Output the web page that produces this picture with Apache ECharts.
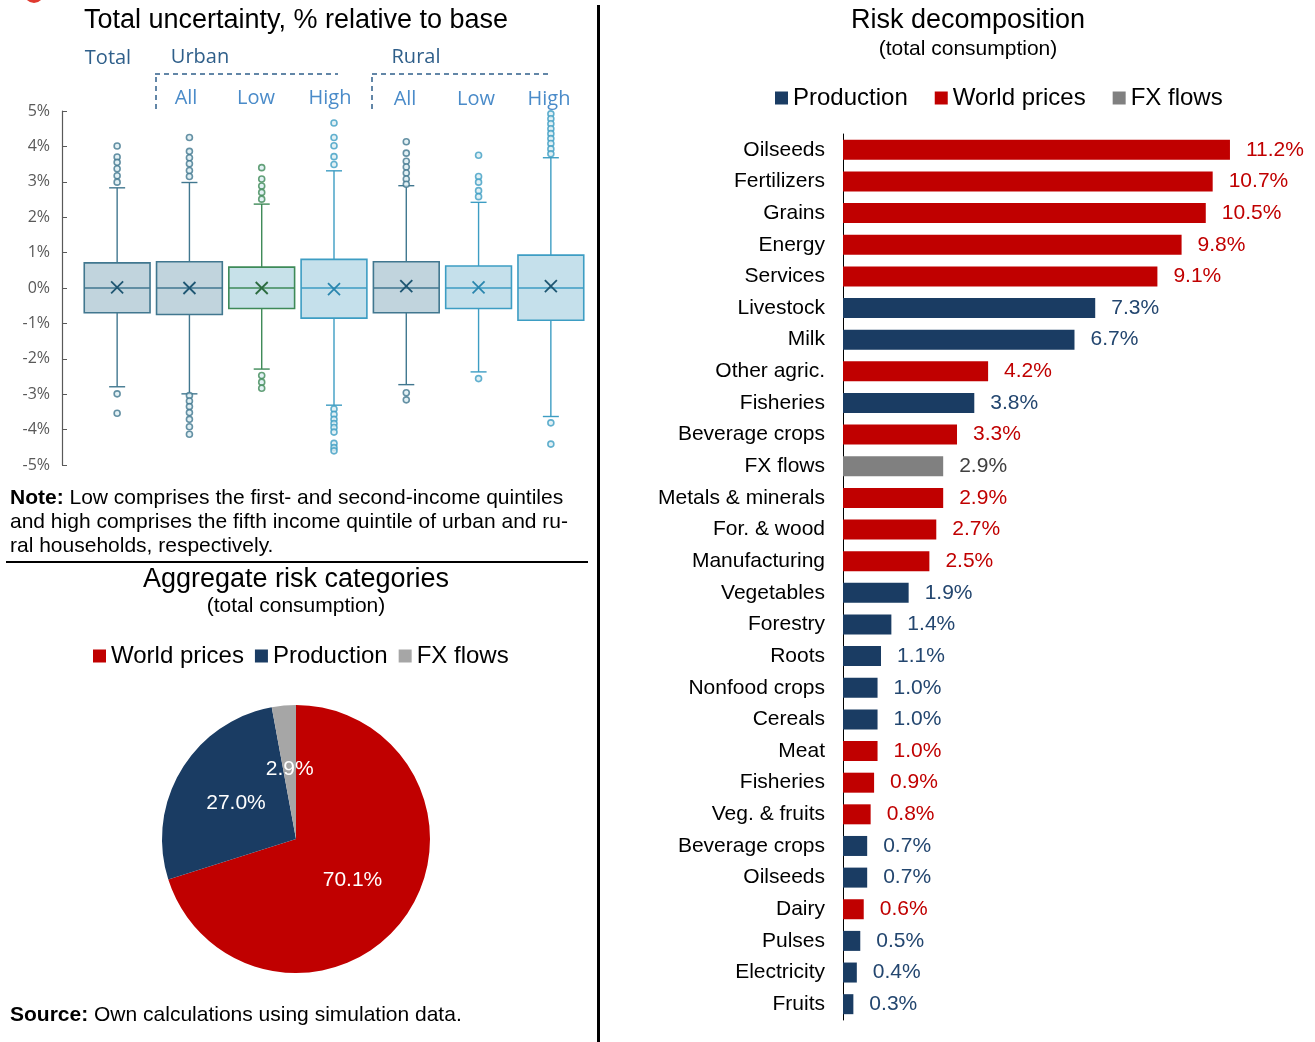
<!DOCTYPE html>
<html>
<head>
<meta charset="utf-8">
<script src="https://cdn.jsdelivr.net/npm/echarts@6/dist/echarts.min.js"></script>
<style>
  html, body { margin: 0; padding: 0; background: #fff; }
  #main { width: 1315px; height: 1042px; }
</style>
</head>
<body>
<div id="main"></div>
<script>
// ---- box plot: total uncertainty, % relative to base
var boxGroups   = ['Total', 'Urban All', 'Urban Low', 'Urban High', 'Rural All', 'Rural Low', 'Rural High'];
var boxLow      = [-2.79, -2.99, -2.29, -3.31, -2.73, -2.37, -3.63];
var boxQ1       = [-0.70, -0.75, -0.58, -0.85, -0.70, -0.58, -0.91];
var boxMedian   = [0, 0, 0, 0, 0, 0, 0];
var boxQ3       = [0.71, 0.74, 0.59, 0.81, 0.74, 0.62, 0.93];
var boxHigh     = [2.83, 2.98, 2.37, 3.31, 2.89, 2.42, 3.68];
var boxMean     = [0.02, 0.00, 0.00, -0.03, 0.05, 0.02, 0.05];
var boxOutliers = [
    [4.01, 3.70, 3.55, 3.37, 3.17, 2.99, -2.99, -3.54],
    [4.25, 3.86, 3.68, 3.51, 3.32, 3.15, -3.04, -3.19, -3.35, -3.52, -3.71, -3.92, -4.13],
    [3.40, 3.08, 2.88, 2.70, 2.51, -2.47, -2.66, -2.83],
    [4.66, 4.25, 4.02, 3.71, 3.49, -3.42, -3.57, -3.71, -3.83, -3.94, -4.07, -4.39, -4.51, -4.60],
    [4.13, 3.81, 3.58, 3.42, 3.25, 3.08, 2.93, -2.96, -3.16],
    [3.75, 3.15, 2.99, 2.75, 2.58, -2.56],
    [4.92, 4.78, 4.64, 4.50, 4.36, 4.22, 4.08, 3.93, 3.79, -3.81, -4.41]
];

// ---- pie: aggregate risk categories
var pieNames  = ['World prices', 'Production', 'FX flows'];
var pieValues = [70.1, 27.0, 2.9];

// ---- bars: risk decomposition
var barCategories = ['Oilseeds', 'Fertilizers', 'Grains', 'Energy', 'Services', 'Livestock', 'Milk',
    'Other agric.', 'Fisheries', 'Beverage crops', 'FX flows', 'Metals & minerals', 'For. & wood',
    'Manufacturing', 'Vegetables', 'Forestry', 'Roots', 'Nonfood crops', 'Cereals', 'Meat', 'Fisheries',
    'Veg. & fruits', 'Beverage crops', 'Oilseeds', 'Dairy', 'Pulses', 'Electricity', 'Fruits'];
var barValues = [11.2, 10.7, 10.5, 9.8, 9.1, 7.3, 6.7, 4.2, 3.8, 3.3, 2.9, 2.9, 2.7, 2.5, 1.9, 1.4,
    1.1, 1.0, 1.0, 1.0, 0.9, 0.8, 0.7, 0.7, 0.6, 0.5, 0.4, 0.3];
var barGroup = ['W', 'W', 'W', 'W', 'W', 'P', 'P', 'W', 'P', 'W', 'F', 'W', 'W', 'W', 'P', 'P',
    'P', 'P', 'P', 'W', 'W', 'W', 'P', 'P', 'W', 'P', 'P', 'P'];

// styles
var RED = '#c00000', NAVY = '#1a3c63';
var ARIAL = '"Liberation Sans", Arial, sans-serif';
var SEGOE = '"Open Sans", "Noto Sans", sans-serif';
var boxFill   = ['#c1d4dd', '#c1d4dd', '#c7e1e9', '#c5e0eb', '#c1d4dd', '#c5e0eb', '#c5e0eb'];
var boxStroke = ['#41778f', '#41778f', '#3e8a58', '#3d9dc3', '#41778f', '#3d9dc3', '#3d9dc3'];
var boxMark   = ['#1e5672', '#1e5672', '#2c6c40', '#2a86ae', '#1e5672', '#2a86ae', '#1e5672'];
var groupDefs = [
    { key: 'P', name: 'Production', color: NAVY, label: '#23466f' },
    { key: 'W', name: 'World prices', color: RED, label: RED },
    { key: 'F', name: 'FX flows', color: '#808080', label: '#404040' }
];

var myChart = echarts.init(document.getElementById('main'));

// box data: [index, low, q1, median, q3, high, mean]
var boxData = boxGroups.map(function (g, i) {
    return [i, boxLow[i], boxQ1[i], boxMedian[i], boxQ3[i], boxHigh[i], boxMean[i]];
});
var outlierData = [];
boxOutliers.forEach(function (list, i) {
    list.forEach(function (v) {
        outlierData.push({
            value: [i, v],
            itemStyle: { color: '#dcedf3', borderColor: boxStroke[i], borderWidth: 1.6 }
        });
    });
});

function renderBox(params, api) {
    var i = api.value(0);
    var x = api.coord([i, 0])[0];
    var w = api.size([1, 0])[0] * 0.91;
    var yLow = api.coord([i, api.value(1)])[1];
    var yQ1 = api.coord([i, api.value(2)])[1];
    var yMed = api.coord([i, api.value(3)])[1];
    var yQ3 = api.coord([i, api.value(4)])[1];
    var yHigh = api.coord([i, api.value(5)])[1];
    var yMean = api.coord([i, api.value(6)])[1];
    var stroke = boxStroke[i];
    var ls = { stroke: stroke, lineWidth: 1.4 };
    var cap = 8, m = 6;
    return {
        type: 'group',
        children: [
            { type: 'line', shape: { x1: x, y1: yLow, x2: x, y2: yQ1 }, style: ls },
            { type: 'line', shape: { x1: x, y1: yQ3, x2: x, y2: yHigh }, style: ls },
            { type: 'line', shape: { x1: x - cap, y1: yLow, x2: x + cap, y2: yLow }, style: ls },
            { type: 'line', shape: { x1: x - cap, y1: yHigh, x2: x + cap, y2: yHigh }, style: ls },
            { type: 'rect', shape: { x: x - w / 2, y: yQ3, width: w, height: yQ1 - yQ3 },
              style: { fill: boxFill[i], stroke: stroke, lineWidth: 1.6 } },
            { type: 'line', shape: { x1: x - w / 2, y1: yMed, x2: x + w / 2, y2: yMed }, style: ls },
            { type: 'line', shape: { x1: x - m, y1: yMean - m, x2: x + m, y2: yMean + m },
              style: { stroke: boxMark[i], lineWidth: 1.8 } },
            { type: 'line', shape: { x1: x - m, y1: yMean + m, x2: x + m, y2: yMean - m },
              style: { stroke: boxMark[i], lineWidth: 1.8 } }
        ]
    };
}

var barSeries = groupDefs.map(function (g) {
    return {
        name: g.name,
        type: 'bar',
        stack: 'risk',
        xAxisIndex: 1,
        yAxisIndex: 1,
        barWidth: 20,
        itemStyle: { color: g.color },
        label: {
            show: true,
            position: 'right',
            distance: 16,
            color: g.label,
            fontSize: 21,
            fontFamily: ARIAL,
            formatter: function (p) { return p.value.toFixed(1) + '%'; }
        },
        data: barValues.map(function (v, i) { return barGroup[i] === g.key ? v : '-'; })
    };
});

function txt(text, x, y, size, opts) {
    opts = opts || {};
    return {
        type: 'text',
        x: x,
        y: y,
        silent: true,
        style: {
            text: text,
            fill: opts.color || '#000',
            font: (opts.weight || 'normal') + ' ' + size + 'px ' + (opts.family || ARIAL),
            align: opts.align || 'center',
            textAlign: opts.align || 'center',
            verticalAlign: 'middle',
            textVerticalAlign: 'middle',
            rich: opts.rich
        }
    };
}
function line(x1, y1, x2, y2, stroke, width, dash) {
    return {
        type: 'line',
        silent: true,
        shape: { x1: x1, y1: y1, x2: x2, y2: y2 },
        style: { stroke: stroke, lineWidth: width, lineDash: dash || null }
    };
}

var boldRich = { b: { fontWeight: 'bold', fontSize: 21, fontFamily: ARIAL, fill: '#000' } };
var HEAD = '#2f5f8a', SUB = '#4a8bc9';

var option = {
    animation: false,
    grid: [
        { left: 81, width: 506, top: 111, height: 354 },
        { left: 843, width: 414.6, top: 134, height: 886 }
    ],
    xAxis: [
        { type: 'category', gridIndex: 0, data: boxGroups, show: false },
        { type: 'value', gridIndex: 1, min: 0, max: 12, show: false }
    ],
    yAxis: [
        {
            type: 'value', gridIndex: 0, min: -5, max: 5, interval: 1, offset: 19,
            axisLine: { show: true, lineStyle: { color: '#595959', width: 1.2 } },
            axisTick: { show: true, inside: true, length: 5, lineStyle: { color: '#595959' } },
            splitLine: { show: false },
            axisLabel: { color: '#595959', fontSize: 16, fontFamily: SEGOE, margin: 12,
                formatter: function (v) { return v + '%'; } }
        },
        {
            type: 'category', gridIndex: 1, data: barCategories, inverse: true,
            axisLine: { show: true, lineStyle: { color: '#000', width: 1 } },
            axisTick: { show: false },
            axisLabel: { color: '#000', fontSize: 21, fontFamily: ARIAL, margin: 18 }
        }
    ],
    legend: [
        {
            left: 93, top: 644, padding: 0, itemGap: 11, itemWidth: 13, itemHeight: 13,
            icon: 'rect', selectedMode: false,
            textStyle: { fontSize: 24, fontFamily: ARIAL, color: '#000' },
            data: [
                { name: 'World prices', itemStyle: { color: RED } },
                { name: 'Production', itemStyle: { color: NAVY } },
                { name: 'FX flows', itemStyle: { color: '#a6a6a6' } }
            ]
        },
        {
            left: 775, top: 86, padding: 0, itemGap: 27, itemWidth: 13, itemHeight: 13,
            icon: 'rect', selectedMode: false,
            textStyle: { fontSize: 24, fontFamily: ARIAL, color: '#000' },
            data: [
                { name: 'Production', itemStyle: { color: NAVY } },
                { name: 'World prices', itemStyle: { color: RED } },
                { name: 'FX flows', itemStyle: { color: '#808080' } }
            ]
        }
    ],
    series: [
        {
            type: 'custom',
            xAxisIndex: 0,
            yAxisIndex: 0,
            renderItem: renderBox,
            encode: { x: 0, y: [1, 2, 3, 4, 5, 6] },
            data: boxData,
            z: 2
        },
        {
            type: 'scatter',
            xAxisIndex: 0,
            yAxisIndex: 0,
            symbol: 'circle',
            symbolSize: 6,
            data: outlierData,
            z: 3
        },
        {
            name: 'Aggregate',
            type: 'pie',
            center: [296, 839],
            radius: 134,
            startAngle: 90,
            clockwise: true,
            label: {
                position: 'inside',
                color: '#fff',
                fontSize: 21,
                fontFamily: ARIAL,
                formatter: function (p) { return p.value.toFixed(1) + '%'; }
            },
            labelLine: { show: false },
            data: pieNames.map(function (n, i) {
                return { name: n, value: pieValues[i],
                    itemStyle: { color: [RED, NAVY, '#a6a6a6'][i] } };
            })
        }
    ].concat(barSeries),
    graphic: {
        elements: [
            { type: 'circle', silent: true, shape: { cx: 34, cy: -7, r: 10 }, style: { fill: '#e03a2f' } },
            txt('Total uncertainty, % relative to base', 296, 21, 27),
            txt('Total', 108, 58, 20, { color: HEAD, family: SEGOE }),
            txt('Urban', 200, 57, 20, { color: HEAD, family: SEGOE }),
            txt('Rural', 416, 57, 20, { color: HEAD, family: SEGOE }),
            txt('All', 186, 98, 20, { color: SUB, family: SEGOE }),
            txt('Low', 256, 98, 20, { color: SUB, family: SEGOE }),
            txt('High', 330, 98, 20, { color: SUB, family: SEGOE }),
            txt('All', 405, 99, 20, { color: SUB, family: SEGOE }),
            txt('Low', 476, 99, 20, { color: SUB, family: SEGOE }),
            txt('High', 549, 99, 20, { color: SUB, family: SEGOE }),
            line(155, 74, 338, 74, HEAD, 1.5, [5, 4]),
            line(156, 77, 156, 112, HEAD, 1.5, [5, 4]),
            line(372, 74, 549, 74, HEAD, 1.5, [5, 4]),
            line(372, 77, 372, 112, HEAD, 1.5, [5, 4]),
            txt('{b|Note:} Low comprises the first- and second-income quintiles', 10, 498, 21, { align: 'left', rich: boldRich }),
            txt('and high comprises the fifth income quintile of urban and ru-', 10, 522, 21, { align: 'left' }),
            txt('ral households, respectively.', 10, 546, 21, { align: 'left' }),
            line(6, 562, 588, 562, '#000', 2),
            txt('Aggregate risk categories', 296, 580, 27),
            txt('(total consumption)', 296, 606, 21),
            txt('{b|Source:} Own calculations using simulation data.', 10, 1015, 21, { align: 'left', rich: boldRich }),
            line(598.5, 5, 598.5, 1042, '#000', 3),
            txt('Risk decomposition', 968, 21, 27),
            txt('(total consumption)', 968, 49, 21)
        ]
    }
};

myChart.setOption(option);
</script>
</body>
</html>
